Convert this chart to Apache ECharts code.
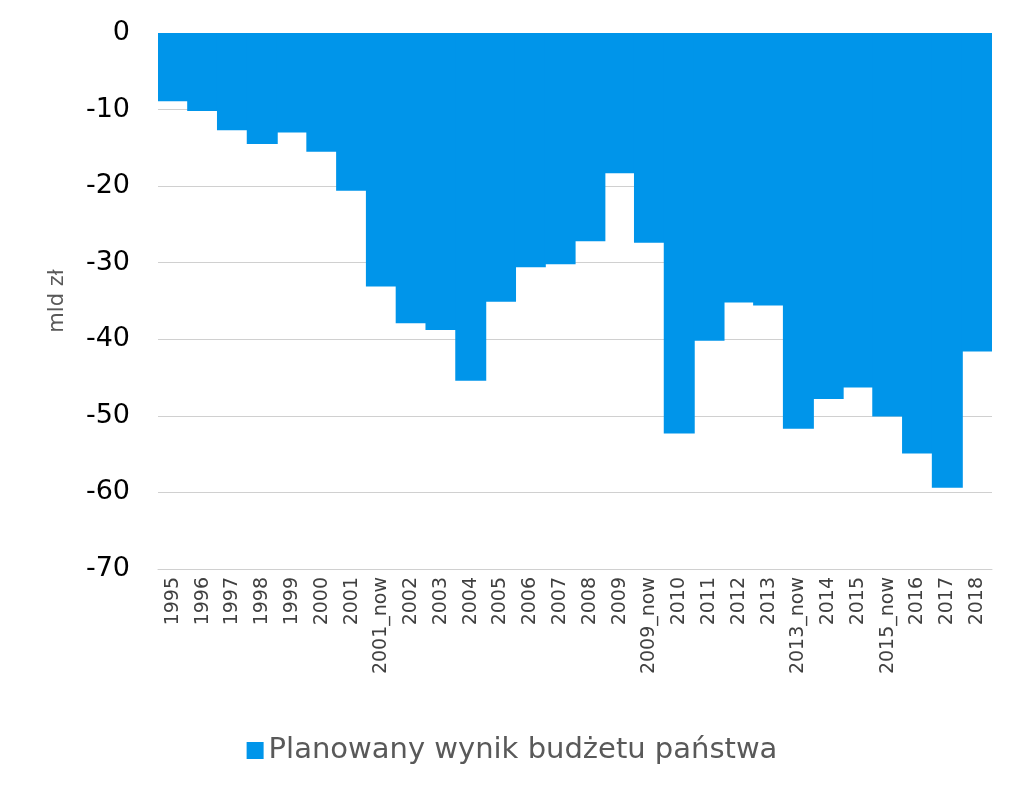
<!DOCTYPE html>
<html>
	<head>
		<meta charset="utf-8">
		<title>Planowany wynik budżetu państwa</title>
		<script src="https://cdn.jsdelivr.net/npm/echarts@6/dist/echarts.min.js"></script>
		<style>
			html, body { margin:0; padding:0; background:#fff; }
			#chart { width:1024px; height:796px; }
		</style>
	</head>
	<body>
		<div id="chart"></div>
		<script type="text/javascript">
			// lata (z wariantami "_now" = po nowelizacji)
			var years = ['1995','1996','1997','1998','1999','2000','2001','2001_now','2002','2003','2004','2005','2006','2007',
				'2008','2009','2009_now','2010','2011','2012','2013','2013_now','2014','2015','2015_now','2016','2017','2018'];
			// planowany wynik, mld zł
			var planned = [-8.9,-10.2,-12.7,-14.5,-13.0,-15.5,-20.6,-33.1,-37.9,-38.8,-45.4,-35.1,-30.6,-30.2,
				-27.2,-18.3,-27.4,-52.3,-40.2,-35.2,-35.6,-51.7,-47.8,-46.3,-50.1,-54.9,-59.4,-41.6];
			var seriesName = 'Planowany wynik budżetu państwa';

			var myChart = echarts.init(document.getElementById('chart'));
			myChart.setOption({
				animation: false,
				textStyle: { fontFamily: 'DejaVu Sans' },
				grid: { left: 158, right: 32, top: 33, bottom: 227, containLabel: false },
				legend: {
					bottom: 26,
					left: 'center',
					itemWidth: 17,
					itemHeight: 17,
					itemGap: 8,
					textStyle: { fontSize: 29, color: '#595959', fontFamily: 'DejaVu Sans' },
					data: [{ name: seriesName, icon: 'rect' }]
				},
				xAxis: {
					type: 'category',
					data: years,
					position: 'bottom',
					axisLine: { onZero: false, lineStyle: { color: '#d0d0d0', width: 1 } },
					axisTick: { show: false },
					axisLabel: { rotate: 90, interval: 0, fontSize: 19, color: '#404040', margin: 8 }
				},
				yAxis: {
					type: 'value',
					min: -70,
					max: 0,
					interval: 10,
					name: 'mld zł',
					nameLocation: 'middle',
					nameRotate: 90,
					nameGap: 90,
					nameTextStyle: { fontSize: 21, color: '#595959' },
					axisLine: { show: false },
					axisTick: { show: false },
					axisLabel: { fontSize: 27, color: '#000', margin: 28 },
					splitLine: { lineStyle: { color: '#d0d0d0', width: 1 } }
				},
				series: [
					{
						name: seriesName,
						type: 'bar',
						data: planned,
						barWidth: '104%',
						itemStyle: { color: '#0095EA' }
					}
				]
			});
		</script>
	</body>
</html>
